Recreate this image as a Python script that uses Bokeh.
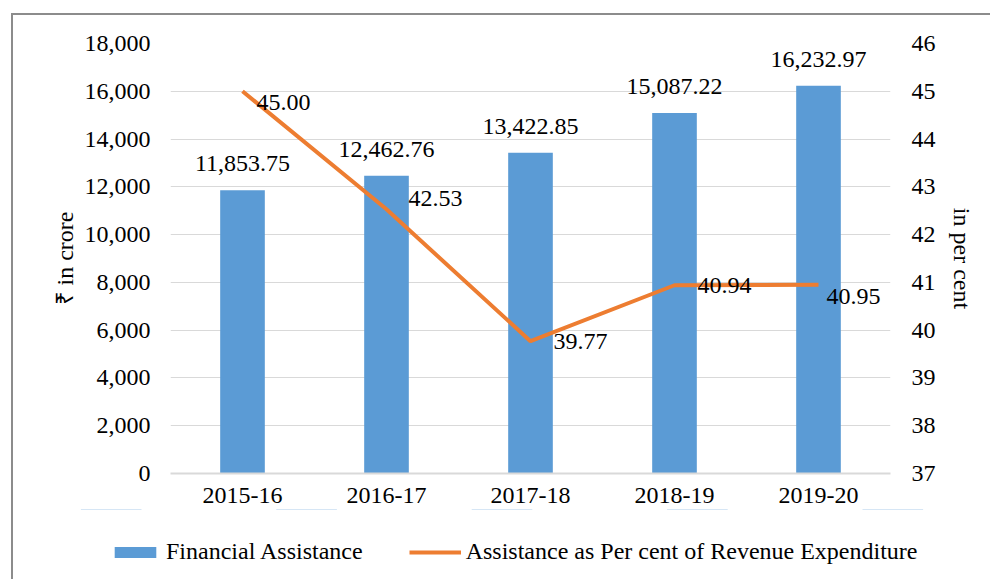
from bokeh.plotting import figure
from bokeh.layouts import column, row
from bokeh.models import (ColumnDataSource, LinearAxis, Range1d, FactorRange, Legend, LegendItem,
                          NumeralTickFormatter, FixedTicker, InlineStyleSheet)
from bokeh.core.properties import value
from bokeh.embed import file_html
from bokeh.resources import INLINE

years = ["2015-16", "2016-17", "2017-18", "2018-19", "2019-20"]
assistance = [11853.75, 12462.76, 13422.85, 15087.22, 16232.97]
percent = [45.00, 42.53, 39.77, 40.94, 40.95]
assist_labels = ["11,853.75", "12,462.76", "13,422.85", "15,087.22", "16,232.97"]
percent_labels = ["45.00", "42.53", "39.77", "40.94", "40.95"]
series_names = ["Financial Assistance", "Assistance as Per cent of Revenue Expenditure"]
# label offsets (styling, in screen px)
pct_dx = [14, 22, 23, 23, 8]
pct_dy = [11, -11, 0, 0, 12]

FONT = "Liberation Serif"
FS = "24px"
BLUE = "#5B9BD5"
ORANGE = "#ED7D31"
GRID = "#D9D9D9"

src = ColumnDataSource(dict(years=years, assistance=assistance, percent=percent,
                            alab=assist_labels, plab=percent_labels, dx=pct_dx, dy=pct_dy))

p = figure(x_range=FactorRange(*years), y_range=Range1d(0, 18000),
           width=977, height=494, output_backend="svg", toolbar_location=None,
           min_border_left=157, min_border_top=28, min_border_right=100, min_border_bottom=36)
p.extra_y_ranges = {"pct": Range1d(37, 46)}
p.x_range.range_padding = 0
p.x_range.group_padding = 0
p.outline_line_color = None
p.background_fill_color = "white"
p.border_fill_color = "white"

bars = p.vbar(x="years", top="assistance", width=0.31, source=src, color=BLUE, line_color=None)
line = p.line(x="years", y="percent", source=src, y_range_name="pct", line_color=ORANGE, line_width=4)

p.text(x="years", y="assistance", text="alab", source=src, text_align="center",
       text_baseline="bottom", y_offset=-19, text_font=value(FONT), text_font_size=FS,
       text_color="black")
p.text(x="years", y="percent", text="plab", source=src, y_range_name="pct", text_align="left",
       text_baseline="middle", x_offset="dx", y_offset="dy", text_font=value(FONT),
       text_font_size=FS, text_color="black")

# Left axis
ya = p.yaxis[0]
ya.ticker = FixedTicker(ticks=list(range(0, 18001, 2000)))
ya.formatter = NumeralTickFormatter(format="0,0")
ya.axis_label = "₹ in crore"
ya.axis_line_color = None
ya.major_tick_line_color = None
ya.minor_tick_line_color = None
ya.major_label_standoff = 14
ya.axis_label_standoff = 4
ya.major_label_text_font = FONT
ya.major_label_text_font_size = FS
ya.major_label_text_color = "black"
ya.axis_label_text_font = FONT
ya.axis_label_text_font_size = FS
ya.axis_label_text_font_style = "normal"
ya.axis_label_text_color = "black"

# Right axis
ra = LinearAxis(y_range_name="pct", ticker=FixedTicker(ticks=list(range(37, 47))))
ra.axis_label = "in per cent"
ra.axis_line_color = None
ra.major_tick_line_color = None
ra.minor_tick_line_color = None
ra.major_label_standoff = 15
ra.axis_label_standoff = 10
ra.major_label_text_font = FONT
ra.major_label_text_font_size = FS
ra.major_label_text_color = "black"
ra.axis_label_text_font = FONT
ra.axis_label_text_font_size = FS
ra.axis_label_text_font_style = "normal"
ra.axis_label_text_color = "black"
p.add_layout(ra, "right")

# X axis
xa = p.xaxis[0]
xa.axis_line_color = GRID
xa.axis_line_width = 2
xa.major_tick_line_color = None
xa.minor_tick_line_color = None
xa.major_label_standoff = 8
xa.major_label_text_font = FONT
xa.major_label_text_font_size = FS
xa.major_label_text_color = "black"

p.xgrid.grid_line_color = None
p.ygrid.grid_line_color = GRID
p.ygrid.grid_line_width = 1

# Legend strip below the chart (its glyphs use the real series, kept outside the visible range)
lf = figure(width=977, height=70, output_backend="svg", toolbar_location=None,
            x_range=FactorRange(*years), y_range=Range1d(-2, -1),
            x_axis_type=None, y_axis_type=None,
            min_border_left=0, min_border_right=0, min_border_top=0, min_border_bottom=0)
lf.grid.visible = False
lf.outline_line_color = None
lf.background_fill_color = "white"
lf.border_fill_color = "white"
lbar = lf.vbar(x="years", top="assistance", width=0.31, source=src, color=BLUE, line_color=None)
lline = lf.line(x="years", y="percent", source=src, line_color=ORANGE, line_width=4)
legend = Legend(items=[LegendItem(label=series_names[0], renderers=[lbar]),
                       LegendItem(label=series_names[1], renderers=[lline])],
                orientation="horizontal", location=(96, 14))
legend.label_text_font = FONT
legend.label_text_font_size = FS
legend.label_text_color = "black"
legend.glyph_width = 52
legend.glyph_height = 14
legend.label_standoff = 5
legend.spacing = 46
legend.padding = 0
legend.margin = 0
legend.border_line_color = None
legend.background_fill_alpha = 0
lf.add_layout(legend, "center")

border_css = InlineStyleSheet(css=":host { border-left: 2px solid #8C8C8C; border-top: 2px solid #8C8C8C; margin-left: 11px; margin-top: 13px; }")
layout = column(p, row(lf), spacing=0, stylesheets=[border_css])

open("out.html", "w").write(file_html(layout, INLINE))
